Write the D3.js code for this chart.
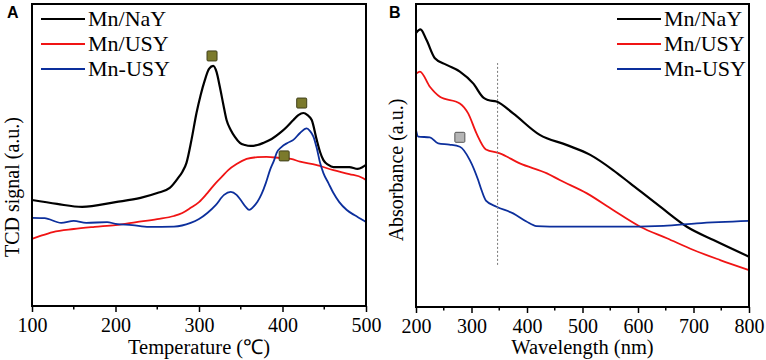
<!DOCTYPE html>
<html>
<head>
<meta charset="utf-8">
<script src="https://cdn.jsdelivr.net/npm/d3@7"></script>
<style>
  body { margin: 0; background: #fff; }
  svg { display: block; }
  .serif { font-family: "Liberation Serif", "Times New Roman", Times, serif; }
  .sans { font-family: "Liberation Sans", Arial, Helvetica, sans-serif; }
</style>
</head>
<body>
<div id="chart-area"></div>
<script>
// series names (legend order)
var seriesNames = ["Mn/NaY", "Mn/USY", "Mn-USY"];
var seriesColors = ["#000000", "#f01414", "#0c2f9c"];

// Panel A - TPR, [temperature, signal a.u.]
var tprNaY = [[100,35.1],[130,33.8],[160,32.8],[200,34.4],[230,35.8],[250,37.4],[265,39.1],[275,42.4],[280,44.4],
  [285,47.4],[291,55.0],[297,63.9],[302,69.9],[307,74.8],[312,78.5],[317,79.5],[321,77.5],[325,72.5],[329,66.9],
  [333,61.6],[338,58.3],[343,56.0],[349,54.0],[355,53.3],[362,53.0],[370,53.3],[377,54.0],[387,55.3],[397,57.3],
  [405,59.3],[413,61.6],[419,63.2],[425,63.9],[430,63.2],[435,61.6],[441,55.0],[445,51.0],[449,48.3],[455,46.7],
  [461,46.0],[469,46.0],[480,46.0],[490,45.4],[496,46.0],[500,46.7]];
var tprUSY = [[100,22.2],[110,23.2],[125,24.5],[150,25.5],[175,26.2],[200,26.8],[225,27.8],[250,28.8],[270,29.8],
  [280,30.8],[290,32.5],[300,34.4],[310,37.4],[320,40.7],[328,43.0],[335,45.0],[345,47.0],[357,48.7],[370,49.3],
  [381,49.4],[397,49.0],[410,48.7],[421,47.8],[440,46.7],[461,45.0],[480,43.7],[496,42.4],[500,41.7]];
var tprMnUSY = [[100,29.2],[115,29.1],[135,27.5],[150,28.2],[165,27.5],[190,27.8],[200,27.2],[220,26.8],[240,26.2],
  [270,26.3],[290,27.5],[300,28.8],[310,30.8],[320,33.4],[330,36.8],[338,37.8],[345,36.8],[350,35.1],[356,32.8],
  [360,31.8],[365,32.8],[370,34.5],[375,37.1],[380,40.7],[385,45.0],[390,48.3],[393,50.7],[399,52.7],[406,54.0],
  [413,55.0],[421,57.3],[429,58.8],[433,57.9],[437,56.1],[441,52.3],[445,47.4],[449,44.0],[455,40.7],[461,37.4],
  [468,34.4],[477,31.8],[486,30.1],[496,28.5],[500,27.8]];
var tprMarkers = [[315.6,82.8],[423,67.2],[402,49.7]];
var tprTicks = [100, 200, 300, 400, 500];

// Panel B - UV-vis, [wavelength nm, absorbance a.u.]
var uvNaY = [[200,90.4],[208,91.6],[219,88.1],[234,82.1],[255,79.9],[279,77.7],[303,73.8],[322,69.0],[330,68.3],
  [345,67.8],[375,63.9],[423,56.8],[471,53.5],[514,50.2],[555,45.2],[586,40.8],[640,33.1],[688,26.5],[736,22.1],[800,16.6]];
var uvUSY = [[201,77.1],[207,77.7],[225,72.7],[243,69.4],[279,67.2],[294,63.9],[309,57.3],[326,52.0],[351,50.7],
  [387,47.4],[436,44.1],[459,41.9],[508,37.5],[555,32.0],[604,26.5],[652,22.7],[700,18.8],[748,15.5],[800,12.2]];
var uvMnUSY = [[200,58.4],[204,56.2],[225,56.0],[240,54.0],[260,53.6],[279,52.9],[297,48.5],[312,41.9],[318,38.6],
  [326,35.1],[345,33.1],[375,30.9],[399,28.2],[417,26.7],[465,26.5],[555,26.5],[646,26.8],[706,27.6],[800,28.4]];
var uvMarkers = [[279,56.0]];
var uvGuide = [347, 13.9, 80.5]; // wavelength, y from, y to
var uvTicks = [200, 300, 400, 500, 600, 700, 800];

var svg = d3.select("#chart-area")
    .append("svg")
        .attr("width", 766)
        .attr("height", 360);

function drawPanel(opt) {
    var x = d3.scaleLinear().domain(opt.xDomain).range([opt.left, opt.right]);
    var y = d3.scaleLinear().domain([0, 100]).range([opt.bottom, opt.top]);
    var g = svg.append("g");

    // minor ticks (half steps)
    var step = opt.ticks[1] - opt.ticks[0];
    var minor = opt.ticks.slice(0, -1).map(t => t + step / 2);
    g.selectAll(".minor").data(minor).enter().append("line")
        .attr("x1", d => x(d)).attr("x2", d => x(d))
        .attr("y1", opt.bottom).attr("y2", opt.bottom + 3.5)
        .attr("stroke", "#000").attr("stroke-width", 1.5);

    var axis = d3.axisBottom(x).tickValues(opt.ticks).tickSize(6).tickSizeOuter(0).tickPadding(6);
    var ax = g.append("g").attr("transform", "translate(0," + opt.bottom + ")").call(axis);
    ax.attr("font-family", null).attr("font-size", null);
    ax.select(".domain").remove();
    ax.selectAll(".tick line").attr("stroke-width", 1.5);
    ax.selectAll("text")
        .attr("class", "serif")
        .style("font-size", "20px").attr("fill", "#000");

    var line = d3.line().x(d => x(d[0])).y(d => y(d[1])).curve(d3.curveMonotoneX);
    opt.series.forEach(function(s, i) {
        g.append("path").datum(s)
            .attr("d", line)
            .attr("fill", "none")
            .attr("stroke", seriesColors[i])
            .attr("stroke-width", i == 0 ? 2.2 : 1.8)
            .attr("stroke-linejoin", "round");
    });

    if (opt.guide) {
        g.append("line")
            .attr("x1", x(opt.guide[0])).attr("x2", x(opt.guide[0]))
            .attr("y1", y(opt.guide[1])).attr("y2", y(opt.guide[2]))
            .attr("stroke", "#777").attr("stroke-width", 1)
            .attr("stroke-dasharray", "2,2");
    }

    g.selectAll(".mark").data(opt.markers).enter().append("rect")
        .attr("x", d => x(d[0]) - 5).attr("y", d => y(d[1]) - 5)
        .attr("width", 10).attr("height", 10).attr("rx", 1)
        .attr("fill", opt.markerFill).attr("stroke", opt.markerStroke).attr("stroke-width", 1);

    // frame
    g.append("rect")
        .attr("x", opt.left).attr("y", opt.top)
        .attr("width", opt.right - opt.left).attr("height", opt.bottom - opt.top)
        .attr("fill", "none").attr("stroke", "#000").attr("stroke-width", 2);

    // legend
    seriesNames.forEach(function(name, i) {
        var ly = 19 + i * 25;
        g.append("line")
            .attr("x1", opt.legendX).attr("x2", opt.legendX + 44)
            .attr("y1", ly).attr("y2", ly)
            .attr("stroke", seriesColors[i]).attr("stroke-width", 2);
        g.append("text")
            .attr("class", "serif")
            .attr("x", opt.legendX + 47).attr("y", ly + 7)
            .style("font-size", "22px")
            .text(name);
    });

    g.append("text")
        .attr("class", "serif")
        .attr("x", (opt.left + opt.right) / 2).attr("y", 354)
        .attr("text-anchor", "middle")
        .style("font-size", "20.5px")
        .text(opt.xTitle);

    g.append("text")
        .attr("class", "serif")
        .attr("transform", "translate(" + (opt.left - 13) + "," + opt.yTitleY + ") rotate(-90)")
        .attr("text-anchor", "middle")
        .style("font-size", "20px")
        .text(opt.yTitle);

    g.append("text")
        .attr("class", "sans")
        .attr("x", opt.letterX).attr("y", 18)
        .style("font-weight", "bold").style("font-size", "16px")
        .text(opt.letter);
}

drawPanel({
    letter: "A", letterX: 7,
    left: 32, right: 366, top: 4, bottom: 306,
    xDomain: [100, 500], ticks: tprTicks,
    series: [tprNaY, tprUSY, tprMnUSY],
    markers: tprMarkers, markerFill: "#7b7a2c", markerStroke: "#3f3f1a",
    legendX: 41,
    xTitle: "Temperature (\u2103)", yTitle: "TCD signal (a.u.)", yTitleY: 187
});

drawPanel({
    letter: "B", letterX: 389,
    left: 416, right: 749, top: 4, bottom: 307,
    xDomain: [200, 800], ticks: uvTicks,
    series: [uvNaY, uvUSY, uvMnUSY],
    markers: uvMarkers, markerFill: "#b5b5b5", markerStroke: "#555",
    guide: uvGuide,
    legendX: 617,
    xTitle: "Wavelength (nm)", yTitle: "Absorbance (a.u.)", yTitleY: 170
});
</script>
</body>
</html>
